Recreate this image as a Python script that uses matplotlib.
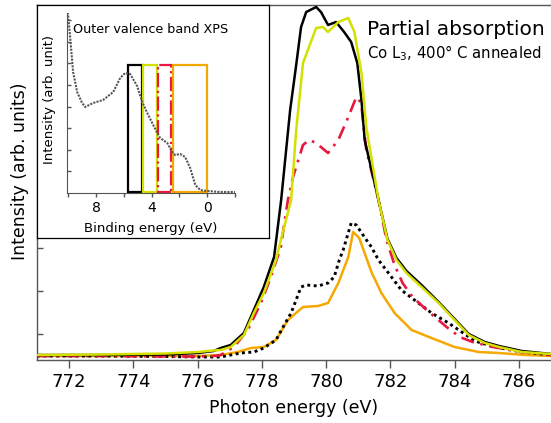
import matplotlib
matplotlib.use("Agg")
import matplotlib.pyplot as plt
from matplotlib.patches import Rectangle
import numpy as np

# ---------------- main panel data (photon energy eV, intensity arb.) ----------------
black_x = [771, 773, 775, 776, 776.5, 776.72, 777.03, 777.44, 777.75, 778.06, 778.38, 778.6,
           778.88, 779.06, 779.22, 779.38, 779.69, 779.84, 780.06, 780.31, 780.56, 780.78,
           780.97, 781.1, 781.2, 781.63, 781.91, 782.19, 782.5, 782.97, 783.5, 784.0,
           784.44, 784.94, 785.38, 786.09, 787]
black_y = [5, 5, 5.5, 7, 9, 12, 15, 27, 50, 73, 103, 160,
           250, 293, 333, 348, 353, 348, 335, 338, 328, 318,
           297, 260, 220, 160, 121, 102, 89, 75, 58, 41,
           26, 18, 14, 9, 6]

yellow_x = [771, 773, 775, 776, 776.5, 776.72, 777.03, 777.44, 777.75, 778.06, 778.44, 778.59,
            778.91, 779.06, 779.28, 779.69, 779.9, 780.06, 780.38, 780.69, 780.88, 781.1,
            781.25, 781.63, 781.91, 782.19, 782.5, 782.97, 783.5, 784.0, 784.44, 784.94,
            785.38, 786.09, 787]
yellow_y = [5, 5.5, 6.5, 8, 9.5, 10, 13, 25, 47, 67, 100, 120,
            160, 227, 297, 332, 333, 328, 338, 342, 328, 287,
            233, 160, 120, 100, 87, 73, 57, 40, 25, 17,
            13, 8, 6]

red_x = [771, 773, 775, 776, 776.5, 776.72, 777.13, 777.56, 777.97, 778.28, 778.59, 778.81,
         778.97, 779.28, 779.47, 779.69, 780.06, 780.38, 780.69, 780.94, 781.09, 781.25,
         781.63, 781.88, 782.13, 782.38, 782.69, 783.13, 783.75, 784.16, 784.56, 785.19,
         786.1, 787]
red_y = [4, 4, 3.5, 3.5, 4, 5, 13, 30, 57, 83, 113, 160,
         183, 215, 220, 217, 207, 220, 243, 263, 257, 210,
         160, 120, 95, 77, 63, 50, 33, 23, 18, 13,
         8, 5]

dot_x = [771, 773, 775, 776, 776.72, 777.34, 777.75, 778.06, 778.44, 778.66, 778.91, 779.22,
         779.38, 779.75, 780.06, 780.25, 780.41, 780.53, 780.78, 780.94, 781.19, 781.41,
         781.63, 781.94, 782.34, 782.75, 783.28, 783.81, 784.22, 784.63, 785.25, 786.1, 787]
dot_y = [4, 4, 3.5, 3, 3, 7, 8, 12, 20, 33, 47, 73,
         75, 74, 77, 83, 100, 110, 137, 135, 123, 113,
         100, 87, 70, 60, 47, 37, 28, 19, 13, 8, 5]

orange_x = [771, 773, 775, 776, 776.72, 777.25, 777.66, 778.06, 778.44, 778.81, 779.28, 779.75,
            780.06, 780.38, 780.69, 780.84, 781.03, 781.41, 781.72, 782.13, 782.66, 783.28,
            784.0, 784.75, 785.38, 786.2, 787]
orange_y = [4, 4, 4, 4, 5, 8, 12, 13, 20, 40, 53, 54,
            57, 77, 103, 128, 122, 88, 67, 47, 30, 22,
            13, 8, 7, 5, 4]

x_ticks = [772, 774, 776, 778, 780, 782, 784, 786]

# ---------------- inset: outer valence band XPS ----------------
xps_x = [10.2, 10.02, 9.87, 9.66, 9.37, 9.01, 8.79, 8.22, 7.5, 6.77, 6.27, 5.91,
         5.55, 5.05, 4.68, 4.32, 3.96, 3.60, 3.39, 2.88, 2.52, 2.31, 1.95, 1.59, 1.23,
         0.86, 0.5, 0.0, -0.94, -2.0]
xps_y = [195, 178, 155, 121, 101, 90, 86, 90, 93, 101, 115, 120,
         119, 107, 91, 80, 70, 60, 55, 50, 41, 38, 39, 36, 25,
         8, 3, 2, 1, 1]

win_lo = [5.7, 4.6, 3.55, 2.5]
win_hi = [4.7, 3.6, 2.6, 0.0]
win_top = 128
win_colors = ["black", "#d4e000", "#e8173f", "#f5a800"]
win_styles = ["-", "-", "-.", "-"]
bind_ticks = [8, 4, 0]

# ---------------- figure ----------------
W, H = 551, 423
fig = plt.figure(figsize=(W / 100, H / 100), dpi=100)
plt.rcParams['font.family'] = ['DejaVu Sans']

ax = fig.add_axes([37 / W, (H - 360) / H, (W - 37) / W, 355 / H])
ax.plot(black_x, black_y, color="black", lw=1.8, zorder=5)
ax.plot(yellow_x, yellow_y, color="#d4e000", lw=1.8, zorder=6)
ax.plot(red_x, red_y, color="#e8173f", lw=1.9, ls=(0, (5, 2.5, 1, 2.5)), zorder=4)
ax.plot(dot_x, dot_y, color="black", lw=2.1, ls=(0, (1, 1.2)), zorder=3)
ax.plot(orange_x, orange_y, color="#f5a800", lw=1.8, zorder=2)

ax.set_xlim(771, 787)
ax.set_ylim(0, 355)
ax.set_xticks(x_ticks)
ax.set_yticks(np.arange(26, 355, 43))
ax.set_yticklabels([])
ax.tick_params(axis="x", direction="out", length=5.5, width=1, labelsize=13, pad=4, color="#555555")
ax.tick_params(axis="y", direction="in", length=4, width=1, color="#555555")
for s in ["left", "bottom", "top"]:
    ax.spines[s].set_color("#555555")
    ax.spines[s].set_linewidth(1)
ax.spines["right"].set_visible(False)

ax.set_xlabel("Photon energy (eV)", fontsize=12.5, va="center")
ax.xaxis.set_label_coords(0.5, (360 - 408) / 355)
ax.set_ylabel("Intensity (arb. units)", fontsize=12.5, va="center", ha="center")
ax.yaxis.set_label_coords((20 - 37) / 514, (360 - 171) / 355)

fig.text(367 / W, (H - 35) / H, "Partial absorption", fontsize=14.5, ha="left", va="baseline")
fig.text(367 / W, (H - 58) / H, "Co L$_3$, 400° C annealed", fontsize=10.7, ha="left", va="baseline")

# inset frame
box = fig.add_axes([37 / W, (H - 238) / H, 232 / W, 233 / H])
box.set_xticks([])
box.set_yticks([])
box.set_facecolor("white")
for s in box.spines.values():
    s.set_color("black")
    s.set_linewidth(0.9)
box.set_zorder(10)

ins = fig.add_axes([67 / W, (H - 193) / H, 168 / W, 180 / H])
ins.set_zorder(11)
ins.plot(xps_x, xps_y, color="#555555", lw=1.5, ls=(0, (1, 0.6)))
for lo, hi, c, st in zip(win_lo, win_hi, win_colors, win_styles):
    ins.add_patch(Rectangle((hi, 0.5), lo - hi, win_top - 0.5, fill=False, edgecolor=c,
                            lw=1.6, ls=st, clip_on=False))
ins.set_xlim(10.1, -2.0)
ins.set_ylim(0, 180)
ins.set_xticks(bind_ticks)
ins.set_xticks([10, 6, 2, -2], minor=True)
ins.set_yticks(np.arange(21.6, 180, 21.6))
ins.set_yticklabels([])
ins.tick_params(axis="x", which="both", direction="out", length=3, width=1, labelsize=10, pad=3, color="#555555")
ins.tick_params(axis="y", direction="in", length=3, width=1, color="#555555")
for s in ["left", "bottom"]:
    ins.spines[s].set_color("#555555")
for s in ["right", "top"]:
    ins.spines[s].set_visible(False)
ins.patch.set_alpha(0)
ins.set_xlabel("Binding energy (eV)", fontsize=9.5, va="center")
ins.xaxis.set_label_coords(0.5, (193 - 228) / 180)
ins.set_ylabel("Intensity (arb. unit)", fontsize=9.5, va="center", ha="center")
ins.yaxis.set_label_coords((49 - 67) / 168, (193 - 100) / 180)
fig.text(73 / W, (H - 33) / H, "Outer valence band XPS", fontsize=9.2, ha="left", va="baseline", zorder=20)

fig.savefig("out.png", dpi=100)
